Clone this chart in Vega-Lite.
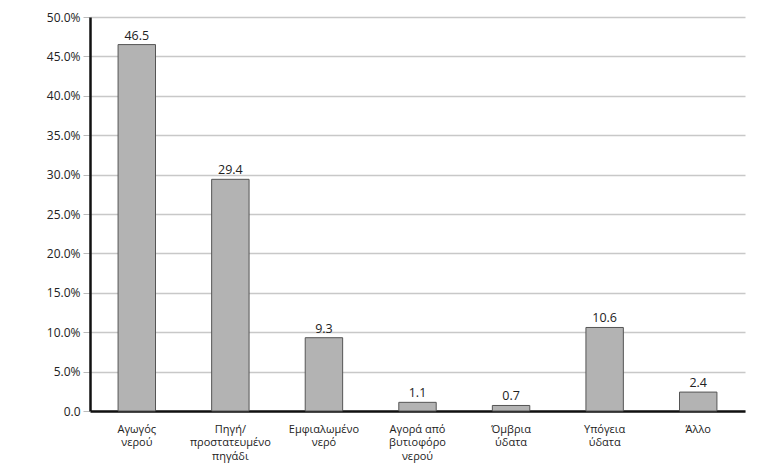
{
  "$schema": "https://vega.github.io/schema/vega-lite/v6.json",
  "autosize": "none",
  "width": 655,
  "height": 394,
  "padding": {"left": 90, "top": 17, "right": 15, "bottom": 64},
  "background": "white",
  "config": {
    "view": {"stroke": null},
    "font": "Open Sans"
  },
  "data": {
    "values": [
      {"cat": "Αγωγός|νερού", "value": 46.5},
      {"cat": "Πηγή/|προστατευμένο|πηγάδι", "value": 29.4},
      {"cat": "Εμφιαλωμένο|νερό", "value": 9.3},
      {"cat": "Αγορά από|βυτιοφόρο|νερού", "value": 1.1},
      {"cat": "Όμβρια|ύδατα", "value": 0.7},
      {"cat": "Υπόγεια|ύδατα", "value": 10.6},
      {"cat": "Άλλο", "value": 2.4}
    ]
  },
  "encoding": {
    "x": {
      "field": "cat",
      "type": "nominal",
      "sort": null,
      "scale": {"paddingInner": 0.6, "paddingOuter": 0.3},
      "axis": {
        "title": null,
        "labelAngle": 0,
        "labelExpr": "split(datum.label, '|')",
        "labelFontSize": 11,
        "labelColor": "#222",
        "labelPadding": 12,
        "labelLineHeight": 13.5,
        "ticks": false,
        "domainColor": "#111",
        "domainWidth": 2.5
      }
    },
    "y": {
      "field": "value",
      "type": "quantitative",
      "scale": {"domain": [0, 50]},
      "axis": {
        "title": null,
        "values": [0, 5, 10, 15, 20, 25, 30, 35, 40, 45, 50],
        "labelExpr": "datum.value == 0 ? '0.0' : format(datum.value, '.1f') + '%'",
        "labelFontSize": 12,
        "labelColor": "#222",
        "tickColor": "#bbb",
        "tickSize": 7,
        "labelPadding": 3,
        "gridColor": "#c8c8c8",
        "gridWidth": 1.5,
        "domainColor": "#111",
        "domainWidth": 2.5
      }
    }
  },
  "layer": [
    {
      "mark": {"type": "bar", "fill": "#b3b3b3", "stroke": "#555", "strokeWidth": 1}
    },
    {
      "mark": {"type": "text", "dy": -9, "fontSize": 12.5, "color": "#222"},
      "encoding": {
        "text": {"field": "value", "type": "quantitative", "format": ".1f"}
      }
    }
  ]
}
